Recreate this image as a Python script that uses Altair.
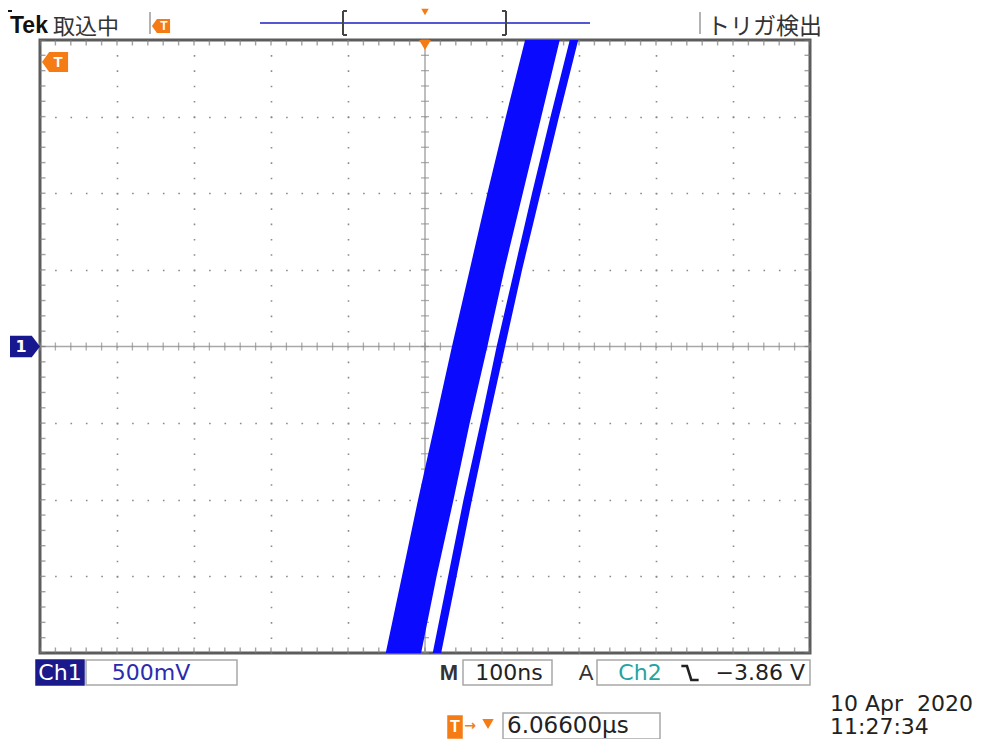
import altair as alt
import pandas as pd

# ---- trace data: time (ns) and voltage (V), Ch1 500 mV/div, 100 ns/div ----
volts = [-2.0, -1.5, -1.0, -0.5, 0.0, 0.5, 1.0, 1.5, 2.0]
wide_left = [-51, -30, -9, 13, 35, 58, 81, 105, 130]
wide_right = [-5, 15, 37, 58, 81, 103, 127, 151, 175]
narrow_left = [10, 30, 50, 72, 93, 116, 139, 163, 188]
narrow_right = [21, 41, 61, 82, 104, 126, 150, 174, 199]

# ---- graticule ----
x_grid = [-400, -300, -200, -100, 100, 200, 300, 400]
y_grid = [-1.5, -1.0, -0.5, 0.5, 1.0, 1.5]
x_minor = [i * 20 for i in range(-25, 26)]
y_minor = [round(i * 0.1, 1) for i in range(-20, 21)]

W, H = 770, 613
ORANGE = "#f57c14"
NAVY = "#17178f"
TRACE = "#0a0aff"

xs = alt.Scale(domain=[-500, 500], nice=False, zero=False)
ys = alt.Scale(domain=[-2, 2], nice=False, zero=False)
x_axis = alt.Axis(values=x_grid, labels=False, ticks=False, domain=False, title=None,
                  grid=True, gridColor="#8a8a8a", gridWidth=1.6,
                  gridDash=[1.6, 13.725], gridDashOffset=0.8)
y_axis = alt.Axis(values=y_grid, labels=False, ticks=False, domain=False, title=None,
                  grid=True, gridColor="#8a8a8a", gridWidth=1.6,
                  gridDash=[1.6, 13.8], gridDashOffset=0.8)


def X(f):
    return alt.X(f"{f}:Q", scale=xs, axis=x_axis)


def Y(f):
    return alt.Y(f"{f}:Q", scale=ys, axis=y_axis)


one = pd.DataFrame({"a": [0]})

layers = []

# center lines
layers.append(alt.Chart(pd.DataFrame({"t": [0]})).mark_rule(color="#a8a8a8", strokeWidth=1.5).encode(x=X("t")))
layers.append(alt.Chart(pd.DataFrame({"v": [0.0]})).mark_rule(color="#a8a8a8", strokeWidth=1.5).encode(y=Y("v")))
# center ticks
layers.append(alt.Chart(pd.DataFrame({"t": x_minor, "v": [0.0] * len(x_minor)}))
              .mark_tick(orient="vertical", size=8, thickness=1.3, color="#8a8a8a")
              .encode(x=X("t"), y=Y("v")))
layers.append(alt.Chart(pd.DataFrame({"t": [0] * len(y_minor), "v": y_minor}))
              .mark_tick(orient="horizontal", size=8, thickness=1.3, color="#8a8a8a")
              .encode(x=X("t"), y=Y("v")))
# edge ticks
edge_tb = pd.DataFrame({"t": x_minor * 2, "v": [-2.0] * len(x_minor) + [2.0] * len(x_minor)})
edge_lr = pd.DataFrame({"t": [-500] * len(y_minor) + [500] * len(y_minor), "v": y_minor * 2})
layers.append(alt.Chart(edge_tb).mark_tick(orient="vertical", size=11, thickness=1.4, color="#7a7a7a", clip=True)
              .encode(x=X("t"), y=Y("v")))
layers.append(alt.Chart(edge_lr).mark_tick(orient="horizontal", size=11, thickness=1.4, color="#7a7a7a", clip=True)
              .encode(x=X("t"), y=Y("v")))

# traces
wide = pd.DataFrame({"v": volts, "t": wide_left, "t2": wide_right})
narrow = pd.DataFrame({"v": volts, "t": narrow_left, "t2": narrow_right})
layers.append(alt.Chart(wide).mark_area(orient="horizontal", color=TRACE, opacity=1, clip=True)
              .encode(y=Y("v"), x=X("t"), x2=alt.X2("t2")))
layers.append(alt.Chart(narrow).mark_area(orient="horizontal", color=TRACE, opacity=1, clip=True)
              .encode(y=Y("v"), x=X("t"), x2=alt.X2("t2")))


# ---- annotation helpers (pixel positions relative to plot area) ----
def text(s, x, y, size=22, color="#222222", font="DejaVu Sans", weight="normal", align="left"):
    return alt.Chart(one).mark_text(text=s, font=font, fontSize=size, fontWeight=weight, color=color,
                                    align=align, baseline="middle").encode(x=alt.value(x), y=alt.value(y))


def rule(x, y, x2=None, y2=None, color="#444444", width=2):
    enc = dict(x=alt.value(x), y=alt.value(y))
    if x2 is not None:
        enc["x2"] = alt.value(x2)
    if y2 is not None:
        enc["y2"] = alt.value(y2)
    return alt.Chart(one).mark_rule(color=color, strokeWidth=width).encode(**enc)


def box(x, x2, y, y2, fill="white", stroke="#a8a8a8"):
    return alt.Chart(one).mark_rect(fill=fill, stroke=stroke, strokeWidth=1.5).encode(
        x=alt.value(x), x2=alt.value(x2), y=alt.value(y), y2=alt.value(y2))


def symbol(shape, x, y, size, color, filled=True, sw=2):
    if filled:
        m = alt.Chart(one).mark_point(shape=shape, size=size, filled=True, color=color, opacity=1)
    else:
        m = alt.Chart(one).mark_point(shape=shape, size=size, filled=False, color=color, opacity=1,
                                      strokeWidth=sw)
    return m.encode(x=alt.value(x), y=alt.value(y))


LEFT_PENT = "M -1 0 L -0.45 -0.77 L 1 -0.77 L 1 0.77 L -0.45 0.77 Z"
RIGHT_PENT = "M 1 0 L 0.45 -0.72 L -1 -0.72 L -1 0.72 L 0.45 0.72 Z"
FALL = "M -1 -0.8 L -0.35 -0.8 L 0.15 0.8 L 1 0.8"

ann = []
# header
ann.append(rule(-32, -29, x2=-28, color="#111111", width=2))
ann.append(text("Tek", -30, -14, size=23, color="#111111", font="Liberation Sans", weight="bold"))
ann.append(text("取込中", 13, -13, size=22, color="#333333", font="Noto Sans CJK JP"))
ann.append(rule(110, -28, y2=-6, color="#9a9a9a", width=1.5))
ann.append(symbol(LEFT_PENT, 121, -14, 330, ORANGE))
ann.append(text("T", 124, -14, size=12, color="white", font="Liberation Sans", weight="bold", align="center"))
ann.append(rule(220, -17, x2=550, color="#5656d2", width=2))
ann.append(rule(303, -29, y2=-5, color="#444444", width=2))
ann.append(rule(303, -29, x2=307, color="#444444", width=2))
ann.append(rule(303, -5, x2=307, color="#444444", width=2))
ann.append(rule(466, -29, y2=-5, color="#444444", width=2))
ann.append(rule(462, -29, x2=466, color="#444444", width=2))
ann.append(rule(462, -5, x2=466, color="#444444", width=2))
ann.append(symbol("triangle-down", 385, -28, 55, ORANGE))
ann.append(rule(660, -28, y2=-6, color="#9a9a9a", width=1.5))
ann.append(text("トリガ検出", 667, -13, size=23, color="#333333", font="Noto Sans CJK JP"))

# graticule markers
ann.append(symbol("triangle-down", 385, 5, 140, ORANGE))
ann.append(symbol(LEFT_PENT, 15, 22, 680, ORANGE))
ann.append(text("T", 18, 22, size=15, color="white", font="Liberation Sans", weight="bold", align="center"))
ann.append(symbol(RIGHT_PENT, -15, 306.5, 900, NAVY))
ann.append(text("1", -19, 307, size=16, color="white", font="DejaVu Sans", weight="bold", align="center"))

# bottom status bar
ann.append(box(-4, 44, 620, 645, fill="#1a1a8c", stroke="#1a1a8c"))
ann.append(text("Ch1", 20, 633, size=22, color="white", align="center"))
ann.append(box(46, 197, 620, 645))
ann.append(text("500mV", 111, 633, size=22, color="#2b2bb0", align="center"))
ann.append(text("M", 409, 633, size=22, color="#333333", font="Liberation Sans", weight="bold", align="center"))
ann.append(box(423, 512, 620, 645))
ann.append(text("100ns", 469, 633, size=22, color="#222222", align="center"))
ann.append(text("A", 546, 633, size=22, color="#333333", font="Liberation Sans", align="center"))
ann.append(box(557, 770, 620, 645))
ann.append(text("Ch2", 600, 633, size=22, color="#25a3a3", align="center"))
ann.append(symbol(FALL, 650, 633, 300, "#222222", filled=False, sw=2.6))
ann.append(text("−3.86 V", 765, 633, size=22, color="#222222", align="right"))

ann.append(box(408, 422, 676, 698, fill=ORANGE, stroke=ORANGE))
ann.append(text("T", 415, 687, size=16, color="white", font="Liberation Sans", weight="bold", align="center"))
ann.append(text("→", 430, 686, size=14, color=ORANGE, font="DejaVu Sans", weight="bold", align="center"))
ann.append(symbol("triangle-down", 448, 684, 130, ORANGE))
ann.append(box(463, 620, 673, 699))
ann.append(text("6.06600µs", 467, 686, size=23, color="#222222"))
ann.append(text("10 Apr\u00a0 2020", 790, 664, size=22, color="#222222"))
ann.append(text("11:27:34", 790, 687, size=22, color="#222222"))

chart = alt.layer(*layers, *ann).properties(
    width=W, height=H,
    autosize=alt.AutoSizeParams(type="none"),
    padding={"left": 32, "top": 32, "right": 172, "bottom": 86},
    background="white",
).configure_view(stroke="#5c5c5c", strokeWidth=3)

chart.save("out.html", embed_options={"renderer": "svg", "actions": False})
